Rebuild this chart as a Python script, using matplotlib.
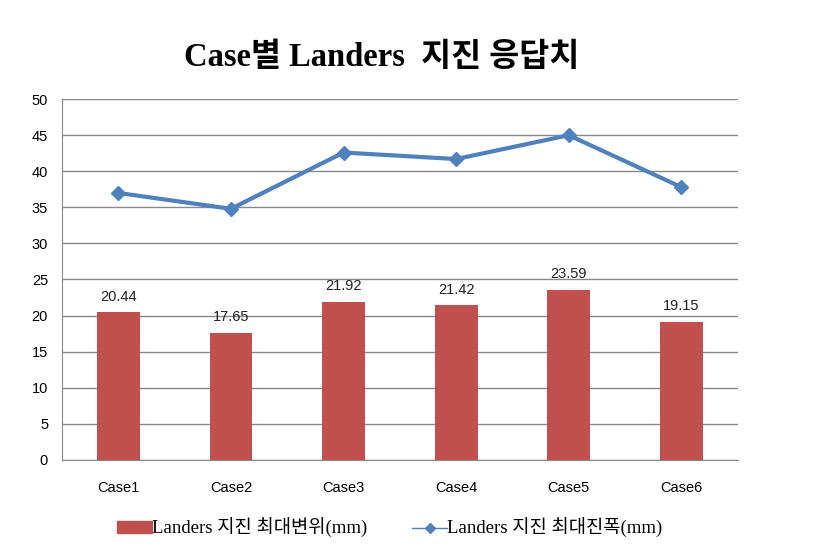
import matplotlib.pyplot as plt
import numpy as np
from matplotlib.lines import Line2D
from matplotlib.patches import Patch

cases = ['Case1', 'Case2', 'Case3', 'Case4', 'Case5', 'Case6']
disp = [20.44, 17.65, 21.92, 21.42, 23.59, 19.15]
accel = [37.0, 34.8, 42.6, 41.7, 45.0, 37.8]

serif = ['Liberation Serif', 'Noto Sans CJK KR']
sans = ['Liberation Sans', 'Noto Sans CJK KR']

fig = plt.figure(figsize=(8.19, 5.54), dpi=100)
ax = fig.add_axes([0.0757, 0.170, 0.825, 0.651])

x = np.arange(len(cases))
ax.bar(x, disp, width=0.38, color='#C0504D', zorder=3)
ax.plot(x, accel, color='#4F81BD', lw=3, marker='D', ms=7, zorder=4)

for xi, v in zip(x, disp):
    ax.text(xi, v + 1.2, f'{v:.2f}', ha='center', va='bottom', fontsize=10.5,
            family=sans, color='#222222')

ax.set_xlim(-0.5, len(cases) - 0.5)
ax.set_ylim(0, 50)
ax.set_yticks(range(0, 51, 5))
ax.set_xticks(x)
ax.set_xticklabels(cases, family=sans, fontsize=10.5)
for lbl in ax.get_yticklabels():
    lbl.set_family(sans)
    lbl.set_fontsize(10.5)
ax.grid(axis='y', color='#888888', lw=1, zorder=0)
ax.tick_params(axis='y', length=0, pad=10)
ax.tick_params(axis='x', length=0, pad=15)
for s in ['top', 'right']:
    ax.spines[s].set_visible(False)
ax.spines['left'].set_color('#888888')
ax.spines['bottom'].set_color('#888888')

fig.text(0.466, 0.897, 'Case별 Landers  지진 응답치', ha='center', va='center',
         fontsize=23.5, family=serif, weight='bold')

handles = [Patch(color='#C0504D'),
           Line2D([], [], color='#4F81BD', marker='D', ms=5, lw=1)]
fig.legend(handles, ['Landers 지진 최대변위(mm)', 'Landers 지진 최대진폭(mm)'],
           loc='center', bbox_to_anchor=(0.476, 0.047), ncol=2, frameon=False,
           prop={'family': serif, 'size': 13.5}, handlelength=1.85,
           handletextpad=0.0, columnspacing=2.4, handleheight=0.6)

fig.savefig('out.png', dpi=100)
